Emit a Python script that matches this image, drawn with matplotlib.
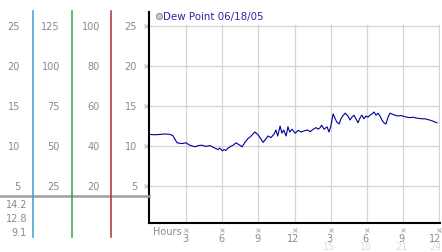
"""
Dew point chart for 06/18/05 with side scales
"""
import matplotlib
matplotlib.use("Agg")
import matplotlib.pyplot as plt
from matplotlib.lines import Line2D
from matplotlib import transforms

# Data: hour of day -> dew point
hours = [0.0, 0.4, 0.85, 1.25, 1.65, 1.9, 2.05, 2.25, 2.65, 3.0,
         3.3, 3.75, 4.0, 4.3, 4.65, 5.0, 5.3, 5.65, 5.8, 6.0,
         6.15, 6.3, 6.45, 6.65, 6.9, 7.15, 7.4, 7.65, 7.9, 8.15,
         8.4, 8.7, 8.95, 9.2, 9.4, 9.65, 9.8, 10.05, 10.3, 10.45,
         10.6, 10.8, 10.95, 11.1, 11.3, 11.45, 11.6, 11.8, 12.05, 12.3,
         12.55, 12.8, 13.05, 13.3, 13.55, 13.8, 13.95, 14.1, 14.25, 14.45,
         14.7, 14.85, 15.0, 15.2, 15.35, 15.5, 15.7, 15.85, 16.0, 16.2,
         16.43, 16.6, 16.76, 16.93, 17.1, 17.26, 17.43, 17.59, 17.76, 17.93,
         18.09, 18.26, 18.42, 18.59, 18.76, 18.92, 19.09, 19.25, 19.42, 19.59,
         19.75, 19.92, 20.08, 20.33, 20.58, 20.83, 21.08, 21.33, 21.58, 21.83,
         22.07, 22.32, 22.57, 22.82, 23.07, 23.32, 23.57, 23.82]
dew_point = [11.45, 11.4, 11.45, 11.5, 11.45, 11.3, 10.9, 10.4, 10.3, 10.4,
             10.1, 9.9, 10.05, 10.1, 9.95, 10.05, 9.8, 9.55, 9.75, 9.4,
             9.55, 9.45, 9.7, 9.9, 10.1, 10.4, 10.15, 9.9, 10.5, 10.95,
             11.25, 11.75, 11.45, 10.9, 10.45, 10.95, 11.25, 11.05, 11.5, 12.0,
             11.25, 12.5, 11.6, 12.0, 11.25, 12.4, 11.75, 12.1, 11.6, 11.95,
             11.75, 11.9, 12.0, 11.8, 12.1, 12.3, 12.1, 12.25, 12.6, 12.1,
             12.4, 11.75, 12.4, 14.0, 13.5, 13.0, 12.75, 13.4, 13.75, 14.1,
             13.75, 13.25, 13.6, 13.85, 13.4, 12.9, 13.5, 13.85, 13.4, 13.75,
             13.6, 13.85, 14.0, 14.25, 13.85, 14.1, 13.75, 13.25, 12.9, 12.75,
             13.6, 14.1, 14.0, 13.85, 13.75, 13.8, 13.7, 13.6, 13.55, 13.6,
             13.5, 13.45, 13.4, 13.4, 13.3, 13.2, 13.05, 12.9]

grid_values = [5, 10, 15, 20, 25]
scale_a = ["5", "10", "15", "20", "25"]
scale_b = ["25", "50", "75", "100", "125"]
scale_c = ["20", "40", "60", "80", "100"]
scale_d = ["5", "10", "15", "20", "25"]
current_values = ["14.2", "12.8", "9.1"]

hour_ticks = [3, 6, 9, 12, 15, 18, 21, 24]
hour_labels = ["3", "6", "9", "12", "3", "6", "9", "12"]
hour_labels_24 = ["", "", "", "", "15", "18", "21", "24"]

TEXT_GRAY = "#8a8a8a"
GRID = "#d4d4d4"
FS = 7
W, H = 442, 253

fig = plt.figure(figsize=(W / 100, H / 100), dpi=100)
ax = fig.add_axes([149 / W, 29 / H, 291 / W, 211 / H])
ax.set_xlim(-0.08, 24.07)
ax.set_ylim(0.375, 26.75)

for s in ["top", "right"]:
    ax.spines[s].set_visible(False)
ax.spines["left"].set_linewidth(1.5)
ax.spines["bottom"].set_linewidth(1.5)
ax.set_xticks([])
ax.set_yticks([])

# grid
ax.hlines(grid_values, -0.08, 24.07, color=GRID, lw=0.9, zorder=1)
ax.vlines(hour_ticks, 0.375, 25.25, color=GRID, lw=0.9, zorder=1)

# dew point line
ax.plot(hours, dew_point, color="#000099", lw=0.8, zorder=3)

# legend
ax.plot([0.75], [26.25], marker="o", ms=4.5, mfc="#c8c8c8", mec="#888888",
        mew=0.6, clip_on=False)
ax.text(1.05, 26.25, "Dew Point 06/18/05", color="#2a2aa8", fontsize=7.4,
        va="center", ha="left")

# y tick marks and x tick labels
ax.plot([-0.35] * len(grid_values), grid_values, ls="none", marker="x",
        ms=2.5, color="#b0b0b0", mew=0.7, clip_on=False)
tr_x = transforms.blended_transform_factory(ax.transData, fig.transFigure)
for h, lab, lab24 in zip(hour_ticks, hour_labels, hour_labels_24):
    ax.plot([h], [-0.55], marker="x", ms=2.5, color="#b0b0b0", mew=0.7,
            clip_on=False)
    xpos, ha = (h + 0.2, "right") if h == 24 else (h - 0.1, "center")
    fig.text(xpos, 1 - 239 / H, lab, transform=tr_x, ha=ha,
             va="center", fontsize=FS, color=TEXT_GRAY)
    if lab24:
        fig.text(xpos, 1 - 247.5 / H, lab24, transform=tr_x, ha=ha,
                 va="center", fontsize=FS, color="#dcdcdc")
fig.text(153 / W, 1 - 232 / H, "Hours", ha="left", va="center",
         fontsize=FS, color=TEXT_GRAY)

# left side scales
tr_y = transforms.blended_transform_factory(fig.transFigure, ax.transData)
for col_x, labels in [(20, scale_a), (60, scale_b), (100, scale_c), (137, scale_d)]:
    for v, lab in zip(grid_values, labels):
        fig.text(col_x / W, v, lab, transform=tr_y, ha="right", va="center",
                 fontsize=FS, color=TEXT_GRAY)
for i, lab in enumerate(current_values):
    fig.text(27 / W, 1 - (205 + 14 * i) / H, lab, ha="right", va="center",
             fontsize=FS, color=TEXT_GRAY)

# separator and scale lines
fig.add_artist(Line2D([0, 149 / W], [1 - 197 / H] * 2, color="#a0a0a0", lw=1.8))
for lx, col in [(33, "#3a9fd0"), (72, "#3aa03a"), (111, "#b03030")]:
    fig.add_artist(Line2D([lx / W] * 2, [1 - 12 / H, 1 - 238 / H], color=col, lw=1.1))

fig.savefig("out.png", dpi=100)
